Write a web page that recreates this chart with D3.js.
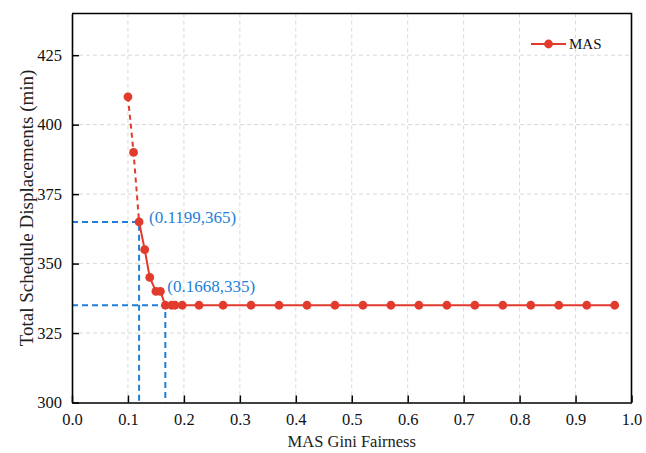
<!DOCTYPE html>
<html>
<head>
<meta charset="utf-8">
<script src="https://cdn.jsdelivr.net/npm/d3@7"></script>
<style>
  html, body { margin: 0; padding: 0; background: #fff; }
  svg { display: block; }
  svg text { font-family: "Liberation Serif", "DejaVu Serif", serif; }
</style>
</head>
<body>
<svg id="chart" width="646" height="453"></svg>
<script>
// Pareto front: total schedule displacement vs. Gini fairness
const giniValues = [0.1, 0.11, 0.1199, 0.13, 0.139, 0.15, 0.158, 0.1668, 0.178, 0.184, 0.197,
  0.227, 0.27, 0.32, 0.37, 0.42, 0.47, 0.52, 0.57, 0.62, 0.67, 0.72, 0.77, 0.82, 0.87, 0.92, 0.97];
const displacementValues = [410, 390, 365, 355, 345, 340, 340, 335, 335, 335, 335,
  335, 335, 335, 335, 335, 335, 335, 335, 335, 335, 335, 335, 335, 335, 335, 335];
const seriesName = "MAS";
const xTicks = [0, 0.1, 0.2, 0.3, 0.4, 0.5, 0.6, 0.7, 0.8, 0.9, 1.0];
const yTicks = [300, 325, 350, 375, 400, 425];
const xDomain = [0, 1];
const yDomain = [300, 440];
// index where the dashed segment ends and the solid one begins
const kneeIndex = 2;
// highlighted points: [gini, displacement]
const highlights = [[0.1199, 365], [0.1668, 335]];
const xTitle = "MAS Gini Fairness";
const yTitle = "Total Schedule Displacements (min)";

const serif = "'Liberation Serif', 'DejaVu Serif', serif";
const red = "#e23a2c";
const blue = "#1f7fd6";

const margin = { top: 13.5, right: 14.5, bottom: 50.5, left: 72 };
const W = 646, H = 453;
const iw = W - margin.left - margin.right;
const ih = H - margin.top - margin.bottom;

const svg = d3.select("#chart");
const g = svg.append("g").attr("transform", `translate(${margin.left},${margin.top})`);

const x = d3.scaleLinear().domain(xDomain).range([0, iw]);
const y = d3.scaleLinear().domain(yDomain).range([ih, 0]);

// grid
g.append("g").selectAll("line").data(xTicks.slice(1, -1)).join("line")
  .attr("x1", d => x(d)).attr("x2", d => x(d)).attr("y1", 0).attr("y2", ih)
  .attr("stroke", "#d9d9d9").attr("stroke-width", 1).attr("stroke-dasharray", "4,3");
g.append("g").selectAll("line").data(yTicks.slice(1)).join("line")
  .attr("x1", 0).attr("x2", iw).attr("y1", d => y(d)).attr("y2", d => y(d))
  .attr("stroke", "#d9d9d9").attr("stroke-width", 1).attr("stroke-dasharray", "4,3");

// reference guides for highlighted points
highlights.forEach(([hx, hy]) => {
  g.append("path")
    .attr("d", `M0,${y(hy)}H${x(hx)}V${ih}`)
    .attr("fill", "none").attr("stroke", blue).attr("stroke-width", 2)
    .attr("stroke-dasharray", "6,4");
});

// series
const pts = giniValues.map((v, i) => [v, displacementValues[i]]);
const line = d3.line().x(d => x(d[0])).y(d => y(d[1]));
g.append("path").attr("d", line(pts.slice(0, kneeIndex + 1)))
  .attr("fill", "none").attr("stroke", red).attr("stroke-width", 2)
  .attr("stroke-dasharray", "5,4");
g.append("path").attr("d", line(pts.slice(kneeIndex)))
  .attr("fill", "none").attr("stroke", red).attr("stroke-width", 2);
g.append("g").selectAll("circle").data(pts).join("circle")
  .attr("cx", d => x(d[0])).attr("cy", d => y(d[1])).attr("r", 4.4)
  .attr("fill", red);

// annotation labels
const labelOffsets = [[10, 1], [2, -13]];
highlights.forEach(([hx, hy], i) => {
  g.append("text")
    .attr("x", x(hx) + labelOffsets[i][0]).attr("y", y(hy) + labelOffsets[i][1])
    .attr("fill", blue).attr("font-size", 17).attr("font-family", serif)
    .text(`(${hx},${hy})`);
});

// axes
const xAxis = g.append("g").attr("transform", `translate(0,${ih})`)
  .call(d3.axisBottom(x).tickValues(xTicks).tickFormat(d3.format(".1f")).tickSizeInner(-7).tickSizeOuter(0).tickPadding(11));
const yAxis = g.append("g")
  .call(d3.axisLeft(y).tickValues(yTicks).tickSizeInner(-7).tickSizeOuter(0).tickPadding(10));
[xAxis, yAxis].forEach(a => {
  a.attr("font-family", serif).attr("font-size", 16.5);
  a.select(".domain").attr("stroke", "#000").attr("stroke-width", 1.6);
  a.selectAll(".tick line").attr("stroke", "#000").attr("stroke-width", 1.5);
  a.selectAll(".tick text").attr("font-size", 16.5).attr("fill", "#111")
    .attr("font-family", serif);
});
// frame top/right
g.append("path").attr("d", `M0,0H${iw}V${ih}`).attr("fill", "none")
  .attr("stroke", "#000").attr("stroke-width", 1.6);

// axis titles
svg.append("text").attr("x", margin.left + iw / 2).attr("y", 446.5)
  .attr("text-anchor", "middle").attr("font-size", 16.5).attr("font-family", serif)
  .attr("fill", "#222").text(xTitle);
svg.append("text")
  .attr("transform", `translate(33,${margin.top + ih / 2}) rotate(-90)`)
  .attr("text-anchor", "middle").attr("font-size", 19).attr("font-family", serif)
  .attr("fill", "#222").text(yTitle);

// legend
const lg = svg.append("g").attr("transform", "translate(531,44)");
lg.append("line").attr("x1", 0).attr("x2", 35).attr("y1", 0).attr("y2", 0)
  .attr("stroke", red).attr("stroke-width", 2);
lg.append("circle").attr("cx", 17.5).attr("cy", 0).attr("r", 4.4).attr("fill", red);
lg.append("text").attr("x", 38).attr("y", 5).attr("font-size", 15).attr("font-family", serif)
  .attr("fill", "#111").text(seriesName);
</script>
</body>
</html>
